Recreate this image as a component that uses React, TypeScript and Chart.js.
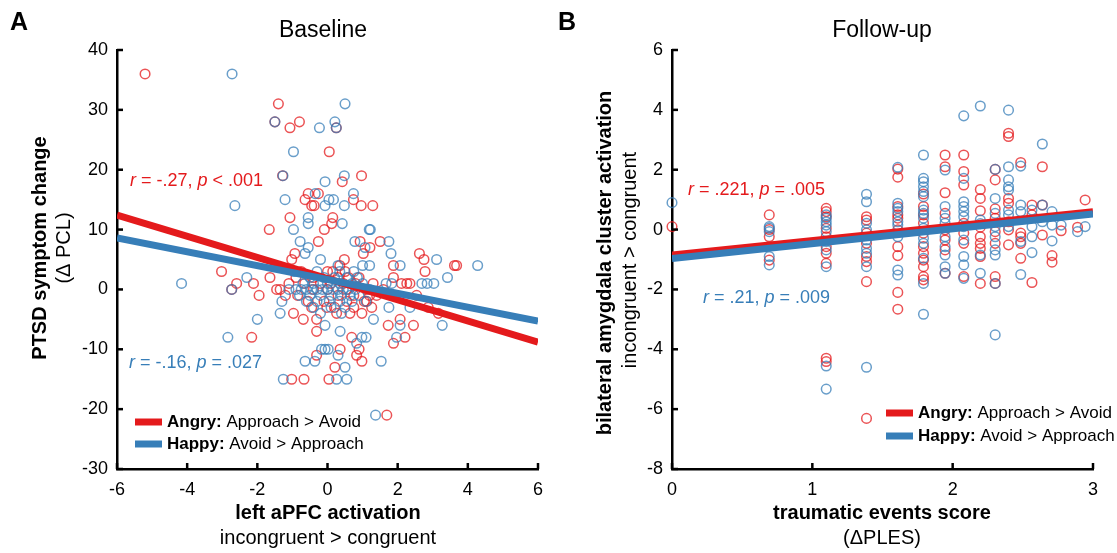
import React, { useEffect, useRef } from "react";
import { Chart, registerables } from "chart.js";
Chart.register(...registerables);

const FONT = '"Liberation Sans", Arial, Helvetica, sans-serif';
const RED = "#e41a1c";
const BLUE = "#377eb8";
const RED_PT = "rgba(228,26,28,0.75)";
const BLUE_PT = "rgba(55,126,184,0.75)";

// ---------- Panel A: Baseline ----------
const baselineXTicks = [-6, -4, -2, 0, 2, 4, 6];
const baselineYTicks = [-30, -20, -10, 0, 10, 20, 30, 40];
const baselineAngry: [number, number][] = [
  [-5.2, 36], [-1.4, 31], [-1.5, 28], [-1.07, 27], [-0.8, 28], [0.25, 27], [0.05, 23], [-1.28, 19], [0.97, 19],
  [0.42, 18], [-0.55, 16], [-0.26, 16], [-0.64, 15], [-0.45, 14], [-0.38, 14], [0.74, 15], [0.96, 14], [1.29, 14],
  [0.15, 12], [0.12, 11], [-1.07, 12], [-1.66, 10], [-0.09, 10], [-0.26, 8], [0.93, 8], [1.5, 8], [1.02, 6],
  [-0.93, 6], [-1.02, 5], [0.48, 5], [1.21, 7], [2.62, 6], [2.75, 5], [1.88, 4], [2.78, 3], [3.62, 4], [3.68, 4],
  [-3.02, 3], [-2.59, 1], [-2.73, 0], [-2.11, 1], [-1.95, -1], [-1.64, 2], [-1.45, 0], [-1.35, 0], [-2.16, -8],
  [2.11, 1], [2.26, 1], [2.35, 1], [1.88, 2], [2.54, -1], [2.87, -3], [3.16, -4], [1.73, -6], [2.07, -5],
  [2.45, -6], [2.21, -8], [1.88, -9], [0.69, -8], [-0.31, -7], [0.36, -10], [0.98, -12], [0.83, -11], [0.9, -10],
  [0.21, -13], [-0.31, -11], [-1.02, -15], [-0.67, -15], [0.04, -15], [1.69, -21], [-0.69, -5], [-0.97, -4],
  [-0.31, -5], [0.26, -4], [0.64, -4], [0.98, -4], [1.26, -3], [-0.02, -3], [-0.9, 2], [-0.4, 2], [0.0, 3],
  [0.15, 3], [0.3, 2], [0.5, 3], [0.6, 2], [0.9, 2], [1.3, 1], [-0.4, 0], [0.0, 0], [0.3, -1], [0.55, 0],
  [0.75, -1], [1.05, -2], [1.2, -1], [-0.85, -1], [-0.55, -2], [-0.1, -2], [0.2, -3], [0.75, -3], [-0.2, 1],
  [0.1, 1], [0.45, 1], [0.8, 1], [1.1, 0], [-0.65, 1], [-1.1, 1], [-1.2, -1], [1.4, -1], [1.59, 0], [1.12, -2],
  [-0.75, 3], [0.35, 4], [-0.45, -3], [0.55, -2],
];
const baselineHappy: [number, number][] = [
  [-2.72, 36], [0.5, 31], [0.21, 28], [-1.5, 28], [0.25, 27], [-0.23, 27], [-0.97, 23], [-1.27, 19], [0.48, 19],
  [-0.07, 18], [0.74, 16], [0.04, 15], [0.17, 15], [-0.35, 16], [-1.21, 15], [-2.64, 14], [-0.07, 14], [0.48, 14],
  [-0.55, 12], [-0.55, 11], [-0.97, 10], [0.42, 11], [1.19, 10], [1.22, 10], [-0.78, 8], [-0.55, 7], [-0.64, 6],
  [0.78, 8], [1.75, 8], [1.81, 6], [1.07, 7], [1.0, 4], [1.2, 4], [2.07, 4], [3.11, 5], [3.42, 2], [4.28, 4],
  [-4.16, 1], [-2.73, 0], [-2.3, 2], [-2.0, -5], [-2.84, -8], [2.69, 1], [2.84, 1], [3.03, 1], [1.67, 1], [1.83, 1],
  [2.35, -3], [3.27, -6], [2.07, -6], [1.97, -8], [0.98, -8], [1.1, -8], [0.83, -9], [1.53, -12], [0.5, -13],
  [-0.07, -10], [0.02, -10], [-0.17, -10], [-0.64, -12], [-0.36, -12], [0.3, -11], [-1.26, -15], [0.26, -15],
  [0.55, -15], [1.37, -21], [-0.07, -6], [0.36, -7], [1.31, -5], [1.75, -3], [-1.35, -4], [-1.3, -2], [-0.9, 0],
  [-0.75, 0], [-0.6, 0], [-0.45, 0], [-0.3, 0], [-0.15, 0], [0.0, 0], [0.15, 0], [0.3, 0], [0.45, 0], [0.6, 0],
  [0.8, 0], [-0.7, 1], [-0.4, 1], [0.0, 1], [0.35, 1], [0.7, 1], [1.0, 1], [-0.8, -1], [-0.5, -1], [-0.2, -1],
  [0.1, -1], [0.4, -1], [0.65, -1], [0.9, -1], [-0.6, -2], [-0.3, -2], [0.05, -2], [0.35, -2], [0.7, -2],
  [-0.4, -3], [0.1, -3], [0.5, -3], [-0.5, 2], [-0.1, 2], [0.2, 2], [0.55, 2], [0.85, 2], [-0.95, 3], [-0.3, 3],
  [0.35, 3], [0.75, 3], [-0.2, -4], [0.4, -4], [1.1, -2], [-1.1, 0], [1.2, 0], [-0.2, 5], [0.3, 4],
];
const baselineFitX = [-6, 6];
const baselineAngryFit = [12.4, -8.8];
const baselineHappyFit = [8.6, -5.3];

// ---------- Panel B: Follow-up ----------
const followXTicks = [0, 1, 2, 3];
const followYTicks = [-8, -6, -4, -2, 0, 2, 4, 6];
const followAngry: [number, number][] = [
  [0, 0.1],
  [0.693, 0.49], [0.693, 0.0], [0.693, -0.24], [0.693, -1.02],
  [1.099, 0.71], [1.099, 0.6], [1.099, 0.43], [1.099, 0.04], [1.099, -0.24], [1.099, -0.57], [1.099, -0.79],
  [1.099, -1.13], [1.099, -4.3], [1.099, -4.41],
  [1.386, 0.43], [1.386, 0.32], [1.386, -0.12], [1.386, -0.46], [1.386, -0.9], [1.386, -1.07], [1.386, -1.74],
  [1.386, -6.31],
  [1.609, 2.02], [1.609, 1.75], [1.609, 0.77], [1.609, 0.49], [1.609, 0.38], [1.609, -0.01], [1.609, -0.57],
  [1.609, -0.87], [1.609, -2.1], [1.609, -2.66],
  [1.792, 1.19], [1.792, 0.77], [1.792, 0.49], [1.792, 0.21], [1.792, -0.12], [1.792, -0.57], [1.792, -0.79],
  [1.792, -1.02], [1.792, -1.24], [1.792, -1.57], [1.792, -1.68],
  [1.946, 2.49], [1.946, 2.1], [1.946, 1.23], [1.946, 0.54], [1.946, -0.01], [1.946, -0.35], [1.946, -0.68],
  [1.946, -1.46],
  [2.079, 2.49], [2.079, 1.94], [2.079, 1.49], [2.079, 0.21], [2.079, -0.12], [2.079, -0.46], [2.079, -1.57],
  [2.197, 1.34], [2.197, 1.04], [2.197, 0.63], [2.197, 0.08], [2.197, -0.24], [2.197, -0.46], [2.197, -0.63],
  [2.197, -0.9], [2.197, -1.8],
  [2.303, 1.66], [2.303, 2.01], [2.303, 0.69], [2.303, 0.38], [2.303, -0.07], [2.303, -0.46], [2.303, -1.57],
  [2.303, -1.8],
  [2.398, 3.22], [2.398, 3.11], [2.398, 1.04], [2.398, 0.88], [2.398, 0.26], [2.398, -0.01], [2.398, -0.51],
  [2.485, 2.24], [2.485, -0.12], [2.485, -0.24], [2.485, -0.46], [2.485, -0.96],
  [2.565, 0.82], [2.565, 0.49], [2.565, -1.77],
  [2.639, 2.1], [2.639, 0.82], [2.639, -0.18],
  [2.708, -0.87], [2.708, -1.09],
  [2.773, -0.04],
  [2.89, 0.08],
  [2.944, 0.99],
];
const followHappy: [number, number][] = [
  [0, 0.9],
  [0.693, 0.1], [0.693, 0.05], [0.693, -0.07], [0.693, -0.9], [0.693, -1.18],
  [1.099, 0.49], [1.099, 0.38], [1.099, 0.26], [1.099, 0.15], [1.099, -0.07], [1.099, -0.4], [1.099, -0.68],
  [1.099, -1.24], [1.099, -4.56], [1.099, -5.33],
  [1.386, 1.18], [1.386, 0.93], [1.386, 0.21], [1.386, -0.01], [1.386, -0.35], [1.386, -0.63], [1.386, -0.79],
  [1.386, -1.24], [1.386, -4.6],
  [1.609, 2.08], [1.609, 0.88], [1.609, 0.71], [1.609, 0.6], [1.609, 0.26], [1.609, 0.15], [1.609, -0.24],
  [1.609, -1.35], [1.609, -1.52],
  [1.792, 2.49], [1.792, 1.71], [1.792, 1.6], [1.792, 1.43], [1.792, 1.27], [1.792, 1.1], [1.792, 0.65],
  [1.792, 0.54], [1.792, 0.38], [1.792, 0.04], [1.792, -0.29], [1.792, -0.46], [1.792, -0.96], [1.792, -1.8],
  [1.792, -2.83],
  [1.946, 1.99], [1.946, 0.77], [1.946, 0.38], [1.946, 0.21], [1.946, -0.24], [1.946, -0.57], [1.946, -0.85],
  [1.946, -1.24], [1.946, -1.46],
  [2.079, 3.8], [2.079, 1.71], [2.079, 0.93], [2.079, 0.77], [2.079, 0.6], [2.079, 0.43], [2.079, 0.1],
  [2.079, -0.35], [2.079, -0.9], [2.079, -1.18], [2.079, -1.63],
  [2.197, 4.13], [2.197, 0.32], [2.197, 0.2], [2.197, -0.85], [2.197, -1.46],
  [2.303, 2.01], [2.303, 1.04], [2.303, 0.54], [2.303, 0.1], [2.303, -0.24], [2.303, -0.68], [2.303, -0.85],
  [2.303, -1.8], [2.303, -3.52],
  [2.398, 3.99], [2.398, 2.1], [2.398, 1.66], [2.398, 1.43], [2.398, 1.32], [2.398, 0.65], [2.398, 0.49],
  [2.398, 0.1],
  [2.485, 2.12], [2.485, 0.82], [2.485, 0.6], [2.485, -0.4], [2.485, -1.5],
  [2.565, 0.65], [2.565, 0.1], [2.565, -0.24], [2.565, -0.77],
  [2.639, 2.86], [2.639, 0.82], [2.639, 0.26],
  [2.708, 0.6], [2.708, 0.15], [2.708, -0.38],
  [2.773, 0.15],
  [2.89, -0.07],
  [2.944, 0.1],
];
const followFitX = [0, 3];
const followAngryFit = [-0.85, 0.6];
const followHappyFit = [-0.97, 0.52];

// ---------- drawing helpers ----------
type Seg = [string, "n" | "b" | "i"];
type TextItem = {
  segs: Seg[];
  x: number;
  y: number;
  size: number;
  color?: string;
  align?: "left" | "center";
  rot?: boolean;
};

function fontFor(style: string, size: number) {
  return `${style === "b" ? "bold " : ""}${style === "i" ? "italic " : ""}${size}px ${FONT}`;
}

function drawRich(ctx: CanvasRenderingContext2D, t: TextItem) {
  ctx.save();
  ctx.translate(t.x, t.y);
  if (t.rot) ctx.rotate(-Math.PI / 2);
  ctx.textBaseline = "middle";
  ctx.textAlign = "left";
  ctx.fillStyle = t.color || "#000";
  let total = 0;
  const widths = t.segs.map(([s, st]) => {
    ctx.font = fontFor(st, t.size);
    const w = ctx.measureText(s).width;
    total += w;
    return w;
  });
  let cx = t.align === "center" ? -total / 2 : 0;
  t.segs.forEach(([s, st], i) => {
    ctx.font = fontFor(st, t.size);
    ctx.fillText(s, cx, 0);
    cx += widths[i];
  });
  ctx.restore();
}

type Panel = {
  xTicks: number[];
  yTicks: number[];
  angry: [number, number][];
  happy: [number, number][];
  fitX: number[];
  angryFit: number[];
  happyFit: number[];
  yAxisWidth: number;
  rightPad: number;
  texts: TextItem[];
  legend: { x: number; yRed: number; yBlue: number };
};

const panelA: Panel = {
  xTicks: baselineXTicks,
  yTicks: baselineYTicks,
  angry: baselineAngry,
  happy: baselineHappy,
  fitX: baselineFitX,
  angryFit: baselineAngryFit,
  happyFit: baselineHappyFit,
  yAxisWidth: 117,
  rightPad: 1117 - 538,
  texts: [
    { segs: [["A", "b"]], x: 19, y: 23, size: 25, align: "center" },
    { segs: [["Baseline", "n"]], x: 323, y: 31, size: 23, align: "center" },
    { segs: [["PTSD symptom change", "b"]], x: 40, y: 248, size: 20, align: "center", rot: true },
    { segs: [["(\u0394 PCL)", "n"]], x: 64, y: 248, size: 20, align: "center", rot: true },
    { segs: [["left aPFC activation", "b"]], x: 328, y: 513, size: 20, align: "center" },
    { segs: [["incongruent > congruent", "n"]], x: 328, y: 538, size: 20, align: "center" },
    {
      segs: [["r", "i"], [" = -.27, ", "n"], ["p", "i"], [" < .001", "n"]],
      x: 130, y: 181, size: 18, color: RED,
    },
    {
      segs: [["r", "i"], [" = -.16, ", "n"], ["p", "i"], [" = .027", "n"]],
      x: 129, y: 363, size: 18, color: BLUE,
    },
    { segs: [["Angry:", "b"], [" Approach > Avoid", "n"]], x: 167, y: 422, size: 17 },
    { segs: [["Happy:", "b"], [" Avoid > Approach", "n"]], x: 167, y: 444, size: 17 },
  ],
  legend: { x: 135, yRed: 422, yBlue: 444 },
};

const panelB: Panel = {
  xTicks: followXTicks,
  yTicks: followYTicks,
  angry: followAngry,
  happy: followHappy,
  fitX: followFitX,
  angryFit: followAngryFit,
  happyFit: followHappyFit,
  yAxisWidth: 672,
  rightPad: 1117 - 1093,
  texts: [
    { segs: [["B", "b"]], x: 567, y: 23, size: 25, align: "center" },
    { segs: [["Follow-up", "n"]], x: 882, y: 31, size: 23, align: "center" },
    { segs: [["bilateral amygdala cluster activation", "b"]], x: 605, y: 263, size: 20, align: "center", rot: true },
    { segs: [["incongruent > congruent", "n"]], x: 630, y: 260, size: 20, align: "center", rot: true },
    { segs: [["traumatic events score", "b"]], x: 882, y: 513, size: 20, align: "center" },
    { segs: [["(\u0394PLES)", "n"]], x: 882, y: 538, size: 20, align: "center" },
    {
      segs: [["r", "i"], [" = .221, ", "n"], ["p", "i"], [" = .005", "n"]],
      x: 688, y: 190, size: 18, color: RED,
    },
    {
      segs: [["r", "i"], [" = .21, ", "n"], ["p", "i"], [" = .009", "n"]],
      x: 703, y: 298, size: 18, color: BLUE,
    },
    { segs: [["Angry:", "b"], [" Approach > Avoid", "n"]], x: 918, y: 413, size: 17 },
    { segs: [["Happy:", "b"], [" Avoid > Approach", "n"]], x: 918, y: 436, size: 17 },
  ],
  legend: { x: 886, yRed: 413, yBlue: 436 },
};

function buildConfig(p: Panel): any {
  const decor = {
    id: "decor",
    afterDraw(chart: any) {
      const ctx: CanvasRenderingContext2D = chart.ctx;
      const ca = chart.chartArea;
      const xs = chart.scales.x;
      const ys = chart.scales.y;
      ctx.save();
      ctx.strokeStyle = "#000";
      ctx.lineWidth = 2.5;
      ctx.lineCap = "butt";
      xs.ticks.forEach((t: any) => {
        const px = xs.getPixelForValue(t.value);
        ctx.beginPath();
        ctx.moveTo(px, ca.bottom);
        ctx.lineTo(px, ca.bottom - 6);
        ctx.stroke();
      });
      ys.ticks.forEach((t: any) => {
        const py = ys.getPixelForValue(t.value);
        ctx.beginPath();
        ctx.moveTo(ca.left, py);
        ctx.lineTo(ca.left + 6, py);
        ctx.stroke();
      });
      // legend swatches
      ctx.lineWidth = 7;
      ctx.strokeStyle = RED;
      ctx.beginPath();
      ctx.moveTo(p.legend.x, p.legend.yRed);
      ctx.lineTo(p.legend.x + 27, p.legend.yRed);
      ctx.stroke();
      ctx.strokeStyle = BLUE;
      ctx.beginPath();
      ctx.moveTo(p.legend.x, p.legend.yBlue);
      ctx.lineTo(p.legend.x + 27, p.legend.yBlue);
      ctx.stroke();
      ctx.restore();
      p.texts.forEach((t) => drawRich(ctx, t));
    },
  };

  const tickFont = { family: FONT, size: 18 };
  return {
    type: "scatter",
    data: {
      datasets: [
        {
          label: "Happy fit",
          data: p.fitX.map((x, i) => ({ x, y: p.happyFit[i] })),
          showLine: true,
          borderColor: BLUE,
          borderWidth: 7,
          pointRadius: 0,
          order: 0,
        },
        {
          label: "Angry fit",
          data: p.fitX.map((x, i) => ({ x, y: p.angryFit[i] })),
          showLine: true,
          borderColor: RED,
          borderWidth: 7,
          pointRadius: 0,
          order: 1,
        },
        {
          label: "Happy",
          data: p.happy.map(([x, y]) => ({ x, y })),
          borderColor: BLUE_PT,
          backgroundColor: "rgba(0,0,0,0)",
          pointRadius: 4.8,
          borderWidth: 1.5,
          clip: false,
          order: 2,
        },
        {
          label: "Angry",
          data: p.angry.map(([x, y]) => ({ x, y })),
          borderColor: RED_PT,
          backgroundColor: "rgba(0,0,0,0)",
          pointRadius: 4.8,
          borderWidth: 1.5,
          clip: false,
          order: 3,
        },
      ],
    },
    options: {
      animation: false,
      responsive: false,
      devicePixelRatio: 1,
      events: [],
      layout: { padding: { left: 0, right: p.rightPad, top: 50, bottom: 0 } },
      plugins: { legend: { display: false }, tooltip: { enabled: false }, title: { display: false } },
      scales: {
        x: {
          type: "linear",
          min: p.xTicks[0],
          max: p.xTicks[p.xTicks.length - 1],
          afterBuildTicks: (s: any) => {
            s.ticks = p.xTicks.map((v) => ({ value: v }));
          },
          afterFit: (s: any) => {
            s.height = 84;
          },
          grid: { display: false, drawTicks: false },
          border: { display: true, color: "#000", width: 2.5 },
          ticks: {
            color: "#000",
            font: tickFont,
            padding: 10,
            maxRotation: 0,
            autoSkip: false,
            callback: (v: any) => String(v),
          },
        },
        y: {
          type: "linear",
          min: p.yTicks[0],
          max: p.yTicks[p.yTicks.length - 1],
          afterBuildTicks: (s: any) => {
            s.ticks = p.yTicks.map((v) => ({ value: v }));
          },
          afterFit: (s: any) => {
            s.width = p.yAxisWidth;
          },
          grid: { display: false, drawTicks: false },
          border: { display: true, color: "#000", width: 2.5 },
          ticks: {
            color: "#000",
            font: tickFont,
            padding: 9,
            autoSkip: false,
            callback: (v: any) => String(v),
          },
        },
      },
    },
    plugins: [decor],
  };
}

function PanelChart({ panel }: { panel: Panel }) {
  const ref = useRef<HTMLCanvasElement | null>(null);
  useEffect(() => {
    if (!ref.current) return;
    const chart = new Chart(ref.current, buildConfig(panel));
    return () => chart.destroy();
  }, [panel]);
  return (
    <canvas
      ref={ref}
      width={1117}
      height={553}
      style={{ position: "absolute", left: 0, top: 0, width: 1117, height: 553 }}
    />
  );
}

export default function App() {
  return (
    <div
      style={{
        position: "fixed",
        left: 0,
        top: 0,
        width: 1117,
        height: 553,
        background: "#ffffff",
        overflow: "hidden",
      }}
    >
      <PanelChart panel={panelA} />
      <PanelChart panel={panelB} />
    </div>
  );
}
